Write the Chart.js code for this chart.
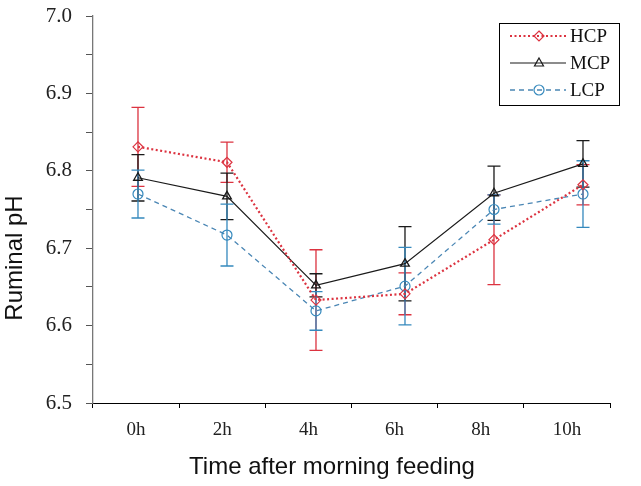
<!DOCTYPE html>
<html>
<head>
<meta charset="utf-8">
<script src="https://cdn.jsdelivr.net/npm/chart.js@4/dist/chart.umd.min.js"></script>
<style>
  html, body { margin: 0; padding: 0; background: #fff; }
  #wrap { width: 641px; height: 486px; position: relative; }
</style>
</head>
<body>
<div id="wrap"><canvas id="ph"></canvas></div>
<script>
const hours = ['0h', '2h', '4h', '6h', '8h', '10h']
const hourValues = [0, 2, 4, 6, 8, 10]
const yTicks = [6.5, 6.6, 6.7, 6.8, 6.9, 7.0]

const hcp = [6.831, 6.811, 6.633, 6.641, 6.711, 6.782]
const hcpErr = [0.051, 0.026, 0.065, 0.027, 0.058, 0.026]
const mcp = [6.791, 6.767, 6.652, 6.680, 6.771, 6.809]
const mcpErr = [0.030, 0.030, 0.015, 0.048, 0.035, 0.030]
const lcp = [6.770, 6.717, 6.619, 6.651, 6.750, 6.770]
const lcpErr = [0.031, 0.040, 0.025, 0.050, 0.019, 0.043]

const RED = '#dc3340'
const BLACK = '#1a1a1a'
const BLUE = '#3589bd'
const serif = '"Liberation Serif", "Times New Roman", serif'
const sans = '"Liberation Sans", Arial, sans-serif'

function pts (vals) {
  return vals.map((v, i) => ({ x: hourValues[i], y: v }))
}

const errors = [hcpErr, mcpErr, lcpErr]

// draws the marker shapes used in the legend
function marker (ctx, style, x, y, r, color) {
  ctx.save()
  ctx.strokeStyle = color
  ctx.lineWidth = 1.2
  ctx.setLineDash([])
  ctx.beginPath()
  if (style === 'rectRot') {
    ctx.moveTo(x, y - r); ctx.lineTo(x + r, y); ctx.lineTo(x, y + r); ctx.lineTo(x - r, y); ctx.closePath()
  } else if (style === 'triangle') {
    ctx.moveTo(x, y - r); ctx.lineTo(x + r * 0.9, y + r * 0.6); ctx.lineTo(x - r * 0.9, y + r * 0.6); ctx.closePath()
  } else {
    ctx.arc(x, y, r, 0, Math.PI * 2)
  }
  ctx.stroke()
  ctx.restore()
}

const errorBars = {
  id: 'errorBars',
  beforeDatasetsDraw (chart) {
    const ctx = chart.ctx
    const ys = chart.scales.y
    chart.data.datasets.forEach((ds, i) => {
      const meta = chart.getDatasetMeta(i)
      ctx.save()
      ctx.strokeStyle = ds.barColor
      ctx.lineWidth = 1.3
      meta.data.forEach((el, j) => {
        const top = ys.getPixelForValue(ds.data[j].y + errors[i][j])
        const bot = ys.getPixelForValue(ds.data[j].y - errors[i][j])
        ctx.beginPath()
        ctx.moveTo(el.x, top); ctx.lineTo(el.x, bot)
        ctx.moveTo(el.x - 6.5, top); ctx.lineTo(el.x + 6.5, top)
        ctx.moveTo(el.x - 6.5, bot); ctx.lineTo(el.x + 6.5, bot)
        ctx.stroke()
      })
      ctx.restore()
    })
  },
  afterDraw (chart) {
    const ctx = chart.ctx
    // legend box
    ctx.save()
    ctx.strokeStyle = '#000'
    ctx.lineWidth = 1
    ctx.strokeRect(499.5, 23.5, 120, 82)
    chart.data.datasets.forEach((ds, i) => {
      const y = 36 + i * 27
      ctx.save()
      ctx.strokeStyle = ds.borderColor
      ctx.lineWidth = ds.borderWidth
      ctx.setLineDash(ds.borderDash || [])
      ctx.beginPath()
      ctx.moveTo(510, y); ctx.lineTo(566, y)
      ctx.stroke()
      ctx.restore()
      marker(ctx, ds.pointStyle, 539, y, ds.pointRadius, ds.pointBorderColor)
      ctx.fillStyle = '#111'
      ctx.font = '19px ' + serif
      ctx.textBaseline = 'middle'
      ctx.textAlign = 'left'
      ctx.fillText(ds.label, 570, y + 1)
    })
    // axis titles
    ctx.fillStyle = '#111'
    ctx.font = '24px ' + sans
    ctx.textAlign = 'center'
    ctx.textBaseline = 'middle'
    ctx.fillText('Time after morning feeding', 332, 467)
    ctx.translate(15, 258)
    ctx.rotate(-Math.PI / 2)
    ctx.fillText('Ruminal pH', 0, 0)
    ctx.restore()
  }
}

const chart = new Chart(
  document.getElementById('ph').getContext('2d'),
  {
    type: 'line',
    data: {
      labels: hours,
      datasets: [
        {
          label: 'HCP',
          data: pts(hcp),
          xAxisID: 'xd',
          borderColor: RED,
          barColor: RED,
          borderWidth: 2.2,
          borderDash: [2, 2.5],
          pointStyle: 'rectRot',
          pointRadius: 5,
          pointBorderColor: RED,
          pointBackgroundColor: 'rgba(0,0,0,0)',
          pointBorderWidth: 1.2,
          tension: 0
        },
        {
          label: 'MCP',
          data: pts(mcp),
          xAxisID: 'xd',
          borderColor: BLACK,
          barColor: BLACK,
          borderWidth: 1.2,
          pointStyle: 'triangle',
          pointRadius: 5,
          pointBorderColor: BLACK,
          pointBackgroundColor: 'rgba(0,0,0,0)',
          pointBorderWidth: 1.3,
          tension: 0
        },
        {
          label: 'LCP',
          data: pts(lcp),
          xAxisID: 'xd',
          borderColor: '#4a86b4',
          barColor: BLUE,
          borderWidth: 1.3,
          borderDash: [5, 4],
          pointStyle: 'circle',
          pointRadius: 5,
          pointBorderColor: BLUE,
          pointBackgroundColor: 'rgba(0,0,0,0)',
          pointBorderWidth: 1.2,
          tension: 0
        }
      ]
    },
    options: {
      responsive: true,
      maintainAspectRatio: false,
      animation: false,
      layout: { padding: { top: 16, right: 31, left: 0, bottom: 0 } },
      plugins: {
        legend: { display: false },
        tooltip: { enabled: false }
      },
      scales: {
        x: {
          type: 'category',
          labels: hours,
          position: 'bottom',
          offset: true,
          grid: { offset: true, drawOnChartArea: false, tickLength: 5, color: '#000' },
          border: { color: '#000', width: 1 },
          ticks: { font: { family: serif, size: 19 }, color: '#222', padding: 11, maxRotation: 0 },
          afterFit: (scale) => { scale.height = 83 }
        },
        xd: {
          type: 'linear',
          axis: 'x',
          position: 'bottom',
          display: false,
          min: -1.011,
          max: 10.607
        },
        y: {
          min: 6.5,
          max: 7.0,
          grid: { drawOnChartArea: false, tickLength: 7, color: '#555' },
          border: { color: '#777', width: 1.3 },
          ticks: {
            stepSize: 0.05,
            autoSkip: false,
            font: { family: serif, size: 21 },
            color: '#222',
            padding: 14,
            callback: function (value) {
              const hit = yTicks.find((t) => Math.abs(t - value) < 1e-6)
              return hit !== undefined ? hit.toFixed(1) : ''
            }
          },
          afterFit: (scale) => {
            scale.width = 93
            scale.paddingTop = 0
            scale.paddingBottom = 0
          }
        }
      }
    },
    plugins: [errorBars]
  }
)
</script>
</body>
</html>
